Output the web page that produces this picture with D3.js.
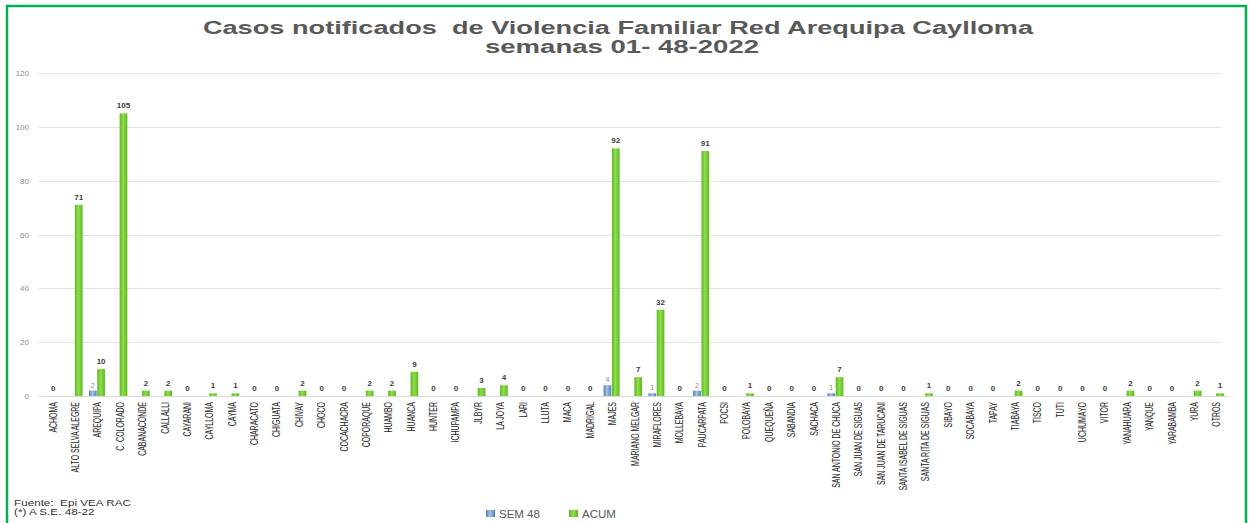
<!DOCTYPE html>
<meta charset="utf-8">
<style>
body { margin: 0; background: #fff; font-family: 'Liberation Sans', Arial, sans-serif; }
.title { font-weight: bold; fill: #595959; text-anchor: middle; font-size: 19px; white-space: pre; }
.grid line { stroke: #e3e3e3; shape-rendering: crispEdges; }
.grid .domain { display: none; }
.y-axis .domain, .y-axis line { display: none; }
.y-axis text { fill: #8c8c8c; font-size: 8px; }
.x-axis .domain { stroke: #d9d9d9; }
.x-axis line { display: none; }
.x-axis text { fill: #262626; font-family: 'Liberation Sans', Arial, sans-serif; font-size: 10px; }
.lbl-acum { font-size: 8px; font-weight: bold; fill: #404040; text-anchor: middle; }
.lbl-sem { font-size: 7px; fill: #8c8c8c; text-anchor: middle; }
.legend text { font-size: 11.5px; fill: #595959; }
.foot { font-size: 9px; fill: #333; white-space: pre; }
</style>
<svg width="1249" height="523"></svg>
<script src="https://cdn.jsdelivr.net/npm/d3@7"></script>
<script>
var categories = ["ACHOMA","ALTO SELVA ALEGRE","AREQUIPA","C. COLORADO","CABANACONDE","CALLALLI","CAYARANI","CAYLLOMA","CAYMA","CHARACATO","CHIGUATA","CHIVAY","CHOCO","COCACHACRA","COPORAQUE","HUAMBO","HUANCA","HUNTER","ICHUPAMPA","JLBYR","LA JOYA","LARI","LLUTA","MACA","MADRIGAL","MAJES","MARIANO MELGAR","MIRAFLORES","MOLLEBAYA","PAUCARPATA","POCSI","POLOBAYA","QUEQUEÑA","SABANDIA","SACHACA","SAN ANTONIO DE CHUCA","SAN JUAN DE SIGUAS","SAN JUAN DE TARUCANI","SANTA ISABEL DE SIGUAS","SANTA RITA DE SIGUAS","SIBAYO","SOCABAYA","TAPAY","TIABAYA","TISCO","TUTI","UCHUMAYO","VITOR","YANAHUARA","YANQUE","YARABAMBA","YURA","OTROS"];
var sem48 = [0,0,2,0,0,0,0,0,0,0,0,0,0,0,0,0,0,0,0,0,0,0,0,0,0,4,0,1,0,2,0,0,0,0,0,1,0,0,0,0,0,0,0,0,0,0,0,0,0,0,0,0,0];
var acum = [0,71,10,105,2,2,0,1,1,0,0,2,0,0,2,2,9,0,0,3,4,0,0,0,0,92,7,32,0,91,0,1,0,0,0,7,0,0,0,1,0,0,0,2,0,0,0,0,2,0,0,2,1];
var yTicks = [0,20,40,60,80,100,120];
var seriesNames = ["SEM 48","ACUM"];

var svg = d3.select("svg"),
    margin = {top: 73, right: 21, bottom: 127, left: 42},
    width = +svg.attr("width") - margin.left - margin.right,
    height = +svg.attr("height") - margin.top - margin.bottom,
    g = svg.append("g").attr("transform", "translate(" + margin.left + "," + margin.top + ")");

// gradients
var defs = svg.append("defs");
function grad(id, edge, mid) {
  var lg = defs.append("linearGradient").attr("id", id).attr("x1", "0").attr("x2", "1").attr("y1", "0").attr("y2", "0");
  lg.append("stop").attr("offset", "0%").attr("stop-color", edge);
  lg.append("stop").attr("offset", "45%").attr("stop-color", mid);
  lg.append("stop").attr("offset", "100%").attr("stop-color", edge);
}
grad("gAcum", "#5fb523", "#8ee04a");
grad("gSem", "#4f7fb8", "#a9c3e3");
var fills = {"SEM 48": "url(#gSem)", "ACUM": "url(#gAcum)"};

// frame
svg.append("rect").attr("x", 7).attr("y", 6).attr("width", 1239).attr("height", 530)
    .attr("fill", "none").attr("stroke", "#00b050").attr("stroke-width", 2.5);

// title (the original is stretched horizontally)
svg.append("text").attr("class", "title").attr("transform", "translate(618,34) scale(1.43,1)")
    .text("Casos notificados  de Violencia Familiar Red Arequipa Caylloma");
svg.append("text").attr("class", "title").attr("transform", "translate(622,53) scale(1.45,1)")
    .text("semanas 01- 48-2022");

var x0 = d3.scaleBand().domain(categories).range([0, width]);
var x1 = d3.scaleBand().domain(seriesNames).range([x0.bandwidth() / 2 - 9, x0.bandwidth() / 2 + 7]).paddingInner(0.08);
var y = d3.scaleLinear().domain([0, 120]).range([height, 0]);

g.append("g").attr("class", "grid")
    .call(d3.axisLeft(y).tickValues(yTicks).tickSize(-width + 4).tickFormat(""))
    .attr("transform", "translate(-3,0)");

g.append("g").attr("class", "y-axis")
    .attr("transform", "translate(-10,0)")
    .call(d3.axisLeft(y).tickValues(yTicks).tickSize(0));

var data = categories.map(function(c, i) { return {cat: c, values: [{key: "SEM 48", v: sem48[i]}, {key: "ACUM", v: acum[i]}]}; });

var barG = g.append("g").selectAll("g").data(data).enter().append("g")
    .attr("transform", function(d) { return "translate(" + x0(d.cat) + ",0)"; });

barG.selectAll("rect").data(function(d) { return d.values.filter(function(e) { return e.v > 0; }); })
  .enter().append("rect")
    .attr("x", function(d) { return x1(d.key); })
    .attr("width", x1.bandwidth())
    .attr("y", function(d) { return y(d.v); })
    .attr("height", function(d) { return height - y(d.v); })
    .attr("fill", function(d) { return fills[d.key]; });

// ACUM labels
barG.append("text").attr("class", "lbl-acum")
    .attr("x", function(d) { return d.values[1].v > 0 ? x1("ACUM") + x1.bandwidth() / 2 : x0.bandwidth() / 2; })
    .attr("y", function(d) { return y(d.values[1].v) - 5; })
    .text(function(d) { return d.values[1].v; });

// SEM labels (non zero only)
barG.filter(function(d) { return d.values[0].v > 0; })
  .append("text").attr("class", "lbl-sem")
    .attr("x", x1("SEM 48") + x1.bandwidth() / 2)
    .attr("y", function(d) { return y(d.values[0].v) - 3; })
    .text(function(d) { return d.values[0].v; });

var xt = g.append("g").attr("class", "x-axis")
    .attr("transform", "translate(0," + height + ")")
    .call(d3.axisBottom(x0).tickSize(0))
  .selectAll("text")
    .attr("text-anchor", "end")
    .attr("x", 0)
    .attr("y", 0)
    .attr("dy", "0.35em");

// condensed labels: squeeze to match the narrow font of the original
var refLen = 0;
xt.each(function(d) { if (d === "SAN ANTONIO DE CHUCA") refLen = this.getComputedTextLength(); });
var sq = refLen ? 86 / refLen : 0.72;
xt.attr("transform", "rotate(-90) translate(-6,0) scale(" + sq + ",1)");

// legend
var legend = svg.append("g").attr("class", "legend").attr("transform", "translate(486,509)");
var lg = legend.selectAll("g").data(seriesNames).enter().append("g")
    .attr("transform", function(d, i) { return "translate(" + (i * 83) + ",0)"; });
lg.append("rect").attr("width", 9).attr("height", 7).attr("y", 1).attr("fill", function(d) { return fills[d]; });
lg.append("text").attr("x", 13).attr("y", 5).attr("dy", "0.35em").text(function(d) { return d; });

svg.append("text").attr("class", "foot").attr("transform", "translate(14,506) scale(1.3,1)").text("Fuente:  Epi VEA RAC");
svg.append("text").attr("class", "foot").attr("transform", "translate(14,515) scale(1.3,1)").text("(*) A S.E. 48-22");
</script>
